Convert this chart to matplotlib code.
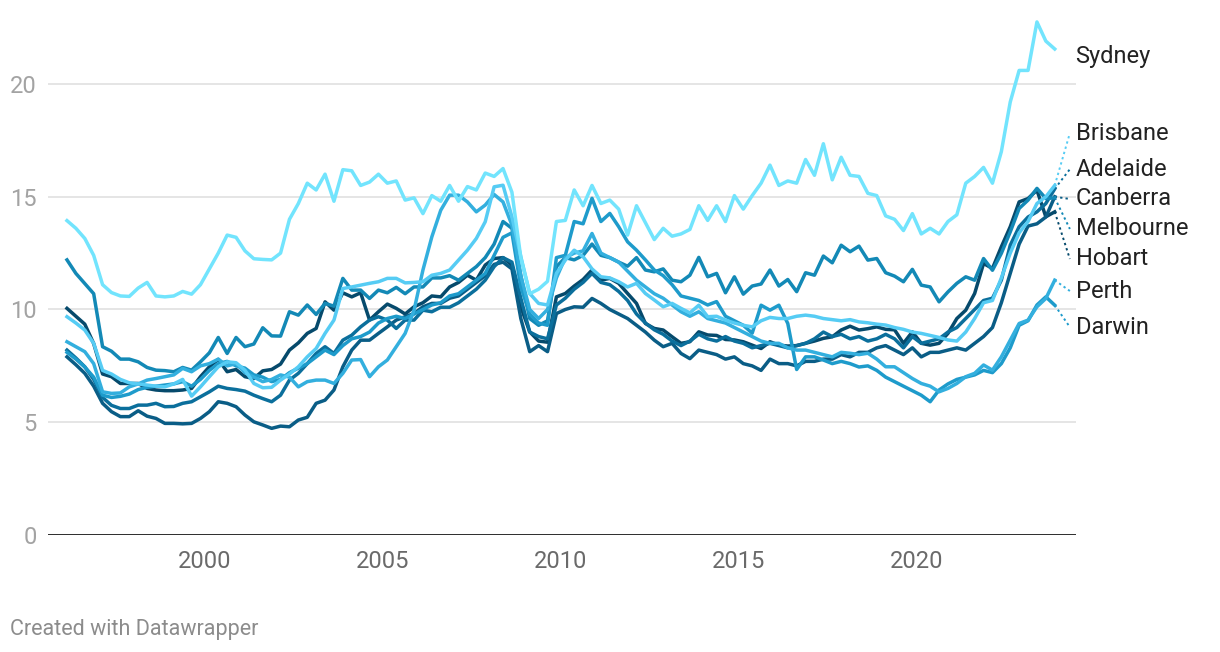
import numpy as np
import matplotlib
matplotlib.use("Agg")
import matplotlib.pyplot as plt

plt.rcParams['font.family'] = ['Roboto', 'DejaVu Sans']

# quarterly observations, 1996 Q1 onwards
quarters = 1996.125 + 0.25 * np.arange(112)

sydney = [13.94, 13.6, 13.15, 12.4, 11.1, 10.75, 10.6, 10.58, 10.95, 11.2,
          10.6, 10.56, 10.6, 10.8, 10.68, 11.1, 11.8, 12.5, 13.3, 13.2,
          12.6, 12.25, 12.22, 12.2, 12.5, 14.0, 14.7, 15.6, 15.3, 16.0,
          14.8, 16.2, 16.15, 15.5, 15.65, 16.0, 15.6, 15.7, 14.85, 14.95,
          14.25, 15.05, 14.8, 15.5, 14.8, 15.45, 15.3, 16.05, 15.9, 16.25,
          15.2, 12.3, 10.7, 10.9, 11.25, 13.9, 13.95, 15.3, 14.6, 15.5,
          14.7, 14.85, 14.45, 13.3, 14.6, 13.85, 13.1, 13.6, 13.25, 13.35,
          13.55, 14.6, 13.95, 14.6, 13.9, 15.05, 14.45, 15.05, 15.6, 16.4,
          15.5, 15.7, 15.6, 16.65, 15.95, 17.35, 15.75, 16.75, 15.95, 15.9,
          15.15, 15.05, 14.15, 14.0, 13.5, 14.25, 13.35, 13.6, 13.35, 13.9,
          14.2, 15.6, 15.9, 16.3, 15.6, 17.0, 19.2, 20.6, 20.6, 22.75,
          21.9, 21.55]

brisbane = [9.68, 9.4, 9.09, 8.5, 7.3, 7.14, 6.9, 6.75, 6.7, 6.65,
            6.6, 6.57, 6.7, 6.9, 6.16, 6.57, 7.02, 7.46, 7.68, 7.64,
            7.31, 6.72, 6.53, 6.55, 6.87, 7.14, 7.46, 7.9, 8.27, 8.94,
            9.53, 10.93, 11.0, 11.08, 11.16, 11.23, 11.38, 11.38, 11.18, 11.2,
            11.23, 11.52, 11.6, 11.75, 12.19, 12.63, 13.15, 13.89, 15.44, 15.51,
            14.11, 12.34, 10.71, 10.27, 10.2, 11.6, 12.19, 12.63, 12.34, 11.8,
            11.45, 11.4, 11.23, 11.0, 11.16, 10.71, 10.42, 10.12, 10.27, 10.05,
            9.85, 10.19, 9.68, 9.7, 9.53, 9.4, 9.3, 9.23, 9.5, 9.65,
            9.6, 9.6, 9.7, 9.75, 9.7, 9.6, 9.55, 9.5, 9.55, 9.45,
            9.41, 9.35, 9.31, 9.2, 9.12, 9.0, 8.94, 8.85, 8.76, 8.65,
            8.6, 9.0, 9.6, 10.3, 10.4, 11.4, 12.5, 13.4, 13.9, 14.7,
            15.0, 15.5]

perth = [8.57, 8.35, 8.13, 7.6, 6.35, 6.28, 6.3, 6.57, 6.7, 6.87,
         6.94, 7.02, 7.1, 7.39, 7.24, 7.5, 7.6, 7.8, 7.5, 7.6,
         7.2, 7.0, 6.8, 6.9, 7.1, 7.0, 6.57, 6.8, 6.87, 6.87,
         6.72, 7.17, 7.76, 7.78, 7.02, 7.46, 7.76, 8.35, 8.94, 9.97,
         11.75, 13.22, 14.4, 15.07, 15.07, 14.77, 14.33, 14.63, 15.1, 14.77,
         13.74, 11.5, 10.0, 9.6, 10.0, 11.4, 12.3, 12.5, 12.6, 13.37,
         12.5, 12.3, 12.1, 11.7, 11.3, 11.0, 10.7, 10.5, 10.2, 9.9,
         9.7, 9.9, 9.6, 9.5, 9.4, 9.2, 9.0, 8.8, 8.6, 8.5,
         8.5, 8.3, 8.2, 8.2, 8.1, 8.0, 7.9, 8.1, 8.06, 8.0,
         8.06, 7.8, 7.46, 7.46, 7.2, 6.94, 6.72, 6.6, 6.35, 6.5,
         6.72, 7.02, 7.17, 7.54, 7.31, 7.9, 8.64, 9.38, 9.53, 10.12,
         10.49, 11.3]

darwin = [8.1, 7.8, 7.45, 7.0, 6.2, 6.1, 6.15, 6.25, 6.45, 6.55,
          6.6, 6.65, 6.7, 6.8, 6.6, 6.9, 7.3, 7.6, 7.7, 7.5,
          7.4, 7.1, 7.0, 6.8, 6.9, 7.2, 7.4, 7.6, 7.9, 8.2,
          8.0, 8.4, 8.7, 8.8, 9.0, 9.4, 9.6, 9.7, 9.6, 9.8,
          10.0, 10.2, 10.3, 10.6, 10.7, 11.0, 11.3, 11.6, 12.4, 13.2,
          13.4, 11.0, 9.8, 9.4, 9.3, 12.3, 12.4, 13.9, 13.8, 14.93,
          13.9, 14.26, 13.67, 13.0, 12.63, 12.2, 11.75, 11.5, 11.1, 10.6,
          10.5, 10.4, 10.2, 10.35, 9.7, 9.5, 9.3, 8.95, 10.19, 9.97,
          10.19, 9.38, 7.34, 7.9, 7.9, 7.76, 7.6, 7.7, 7.6, 7.45,
          7.5, 7.3, 7.0, 6.8, 6.6, 6.4, 6.2, 5.91, 6.43, 6.7,
          6.9, 7.0, 7.1, 7.3, 7.2, 7.6, 8.3, 9.3, 9.5, 10.2,
          10.56, 10.19]

melbourne = [12.2, 11.6, 11.15, 10.7, 8.35, 8.15, 7.8, 7.8, 7.68, 7.43,
             7.31, 7.29, 7.24, 7.43, 7.31, 7.68, 8.08, 8.76, 8.05, 8.76,
             8.35, 8.47, 9.19, 8.83, 8.82, 9.9, 9.75, 10.2, 9.78, 10.27,
             10.15, 11.38, 10.86, 10.86, 10.49, 10.86, 10.74, 10.98, 10.7, 11.0,
             11.0, 11.4, 11.4, 11.5, 11.3, 11.6, 11.9, 12.3, 12.9, 13.9,
             13.6, 11.5, 9.6, 9.3, 9.5, 11.9, 12.3, 12.2, 12.4, 12.9,
             12.4, 12.3, 12.1, 11.92, 12.3, 11.75, 11.67, 11.8, 11.3, 11.23,
             11.52, 12.31, 11.45, 11.6, 10.74, 11.45, 10.68, 11.04, 11.13, 11.75,
             11.04, 11.33, 10.79, 11.63, 11.52, 12.37, 12.07, 12.85, 12.56, 12.81,
             12.19, 12.26, 11.63, 11.48, 11.23, 11.78, 11.08, 11.0, 10.34, 10.78,
             11.16, 11.45, 11.3, 12.26, 11.74, 12.49, 13.44, 14.48, 14.85, 15.37,
             14.92, 14.95]

adelaide = [8.2, 7.85, 7.46, 6.9, 6.1, 5.75, 5.61, 5.61, 5.76, 5.76,
            5.84, 5.69, 5.7, 5.84, 5.91, 6.13, 6.35, 6.6, 6.5, 6.45,
            6.38, 6.2, 6.05, 5.91, 6.2, 6.87, 7.17, 7.6, 8.05, 8.35,
            8.05, 8.64, 8.86, 9.23, 9.53, 9.68, 9.53, 9.16, 9.53, 9.53,
            9.97, 9.9, 10.1, 10.1, 10.3, 10.6, 10.9, 11.3, 11.9, 12.3,
            12.1, 10.5, 9.0, 8.8, 8.7, 10.2, 10.5, 10.9, 11.2, 11.6,
            11.2, 11.1, 10.8, 10.4, 9.8, 9.4, 9.1, 8.9, 8.6, 8.4,
            8.6, 8.9, 8.7, 8.6, 8.8, 8.6, 8.5, 8.3, 8.4, 8.5,
            8.4, 8.3, 8.4, 8.5, 8.7, 9.0, 8.8, 8.9, 8.7, 8.8,
            8.6, 8.7, 8.9, 8.7, 8.3, 8.8, 8.5, 8.6, 8.7, 9.0,
            9.2, 9.6, 10.0, 10.4, 10.5, 11.3, 12.85, 13.67, 14.1, 14.33,
            14.7, 15.35]

canberra = [7.9, 7.55, 7.17, 6.6, 5.84, 5.47, 5.25, 5.25, 5.51, 5.27,
            5.17, 4.95, 4.95, 4.93, 4.95, 5.17, 5.47, 5.91, 5.84, 5.69,
            5.32, 5.02, 4.88, 4.73, 4.83, 4.8, 5.1, 5.22, 5.84, 5.98,
            6.43, 7.46, 8.2, 8.64, 8.64, 8.94, 9.23, 9.53, 9.68, 9.82,
            10.12, 10.27, 10.27, 10.5, 10.6, 10.9, 11.2, 11.5, 12.0, 12.1,
            11.8, 9.6, 8.13, 8.4, 8.13, 9.82, 10.0, 10.12, 10.1, 10.49,
            10.27, 10.0, 9.8, 9.6, 9.3, 9.0, 8.64, 8.35, 8.5, 8.05,
            7.82, 8.2, 8.1, 8.0, 7.8, 7.9, 7.6, 7.5, 7.3, 7.8,
            7.6, 7.6, 7.5, 7.7, 7.7, 7.8, 7.8, 8.0, 7.9, 8.1,
            8.1, 8.3, 8.4, 8.2, 8.0, 8.3, 7.9, 8.1, 8.1, 8.2,
            8.3, 8.2, 8.5, 8.8, 9.2, 10.3, 11.6, 12.9, 13.7, 13.8,
            14.1, 15.0]

hobart = [10.05, 9.7, 9.35, 8.49, 7.14, 7.02, 6.72, 6.72, 6.72, 6.5,
          6.43, 6.4, 6.4, 6.43, 6.5, 7.02, 7.46, 7.79, 7.24, 7.34,
          7.02, 6.94, 7.28, 7.34, 7.58, 8.2, 8.52, 8.94, 9.16, 10.34,
          9.97, 10.74, 10.56, 10.74, 9.53, 9.9, 10.24, 10.05, 9.8, 10.12,
          10.3, 10.6, 10.56, 11.0, 11.2, 11.52, 11.3, 11.97, 12.26, 12.3,
          11.97, 10.12, 9.01, 8.6, 8.55, 10.56, 10.71, 11.04, 11.33, 11.75,
          11.3, 11.38, 11.16, 10.71, 10.27, 9.38, 9.16, 9.09, 8.79, 8.5,
          8.57, 9.01, 8.87, 8.85, 8.67, 8.65, 8.57, 8.42, 8.27, 8.57,
          8.42, 8.38, 8.4, 8.5, 8.6, 8.72, 8.79, 9.09, 9.26, 9.09,
          9.15, 9.23, 9.12, 9.1, 8.5, 9.01, 8.5, 8.42, 8.5, 8.94,
          9.6, 9.97, 10.71, 12.04, 11.82, 12.78, 13.67, 14.77, 14.92, 15.29,
          14.11, 14.33]

cities = ['Hobart', 'Canberra', 'Adelaide', 'Melbourne', 'Darwin', 'Perth', 'Brisbane', 'Sydney']
series = [hobart, canberra, adelaide, melbourne, darwin, perth, brisbane, sydney]
colors = ['#064a6c', '#0a5d86', '#0b6f9c', '#1389b6', '#1e9bcb', '#33afde', '#56ccf4', '#72e4fd']
# where each name sits on the right edge
label_y = {'Sydney': 21.2, 'Brisbane': 17.82, 'Adelaide': 16.22, 'Canberra': 14.9,
           'Melbourne': 13.57, 'Hobart': 12.24, 'Perth': 10.82, 'Darwin': 9.22}

fig = plt.figure(figsize=(12.2, 6.52), dpi=100)
ax = fig.add_axes([0.0393, 0.1794, 0.8426, 0.7956])

for y in [5, 10, 15, 20]:
    ax.axhline(y, color='#e3e3e3', lw=1.3, zorder=0)
ax.axhline(0, color='#1a1a1a', lw=2, zorder=1)

for name, vals, c in zip(cities, series, colors):
    ax.plot(quarters, vals, color=c, lw=2.5, zorder=3)
    if name != 'Sydney':
        ax.plot([quarters[-1], 2024.3], [vals[-1], label_y[name]], color=c,
                lw=1.4, ls=(0, (1.2, 1.6)), clip_on=False, zorder=2)
    ax.text(2024.46, label_y[name], name, va='center', ha='left', fontsize=17,
            color='#222222', clip_on=False)

ax.set_xlim(1995.59, 2024.47)
ax.set_ylim(0, 23)
ax.set_xticks([2000, 2005, 2010, 2015, 2020])
ax.set_yticks([0, 5, 10, 15, 20])
ax.tick_params(axis='both', length=0, labelsize=17)
ax.tick_params(axis='x', pad=11, labelcolor='#6a6a6a')
ax.tick_params(axis='y', pad=8, labelcolor='#a3a3a3')
for s in ax.spines.values():
    s.set_visible(False)

fig.text(10 / 1220, 1 - 630 / 652, 'Created with Datawrapper', va='center', ha='left',
         fontsize=15.5, color='#8c8c8c')

fig.savefig('out.png', dpi=100)
